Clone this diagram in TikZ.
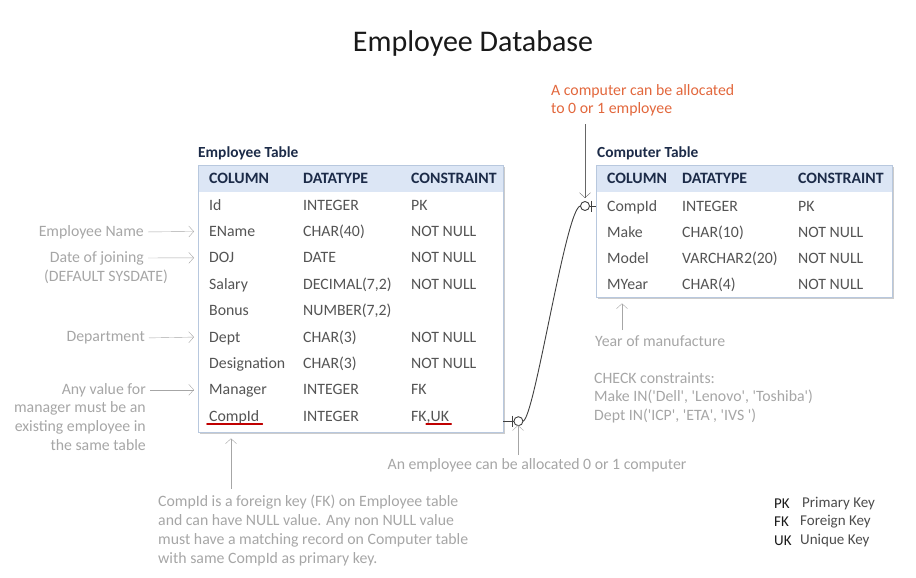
\documentclass[tikz,border=0pt]{standalone}
\usepackage{fontspec}
\setmainfont{Carlito}[Ligatures=TeXOff]
\usetikzlibrary{arrows.meta,shadows,positioning}
\definecolor{hdrblue}{HTML}{DCE6F5}
\definecolor{hdrtext}{HTML}{1C2B48}
\definecolor{celltext}{HTML}{545454}
\definecolor{notegray}{HTML}{A6A6A6}
\definecolor{noteorange}{HTML}{E2673C}
\definecolor{ulred}{HTML}{C00000}
\definecolor{tblline}{HTML}{B8C8DE}
\begin{document}
\begin{tikzpicture}[x=1pt, y=-1pt,
    tbl/.style={draw=tblline, fill=white, anchor=north west, inner sep=0pt,
                drop shadow={shadow xshift=2pt, shadow yshift=-2pt, fill=black!40}},
    hdr/.style={fill=hdrblue, anchor=north west, inner sep=0pt},
    cell/.style={anchor=west, inner sep=0pt, text=celltext,
                 font=\fontsize{15.8}{19}\selectfont, text height=11pt, text depth=1pt},
    hcell/.style={cell, text=hdrtext, font=\fontsize{15.8}{19}\selectfont\bfseries},
    tname/.style={cell, text=hdrtext, font=\fontsize{15.4}{19}\selectfont\bfseries},
    note/.style={inner sep=0pt, text=notegray, font=\fontsize{15.8}{18.8}\selectfont},
    arr/.style={draw=notegray, -{Straight Barb[length=5pt,width=11pt]}},
    rel/.style={draw=black!75, line width=0.9pt},
    ul/.style={draw=ulred, line width=1.6pt, line cap=round},
    key/.style={anchor=west, inner sep=0pt, font=\fontsize{15}{18}\selectfont}
]
\useasboundingbox (0,0) rectangle (916,578);

% Title
\node[inner sep=0pt, text=black!90, font=\fontsize{30}{34}\selectfont] (title) at (473,44) {Employee Database};

% Employee table
\node[tname] (elabel) at (198,152) {Employee Table};
\node[tbl, minimum width=305pt, minimum height=267pt] (etab) at (198,165) {};
\node[hdr, minimum width=304pt, minimum height=26pt] (ehdr) at ([xshift=.5pt,yshift=-.5pt]etab.north west) {};
\node[hcell] (eh1) at (209,178) {COLUMN};
\node[hcell] (eh2) at (303,178) {DATATYPE};
\node[hcell] (eh3) at (411,178) {CONSTRAINT};
\foreach \c/\d/\k [count=\i] in {Id/INTEGER/PK, EName/{CHAR(40)}/NOT NULL, DOJ/DATE/NOT NULL,
    Salary/{DECIMAL(7,2)}/NOT NULL, Bonus/{NUMBER(7,2)}/{}, Dept/{CHAR(3)}/NOT NULL,
    Designation/{CHAR(3)}/NOT NULL, Manager/INTEGER/FK, CompId/INTEGER/{FK,UK}} {
  \node[cell] (e\i) at (209,{205+(\i-1)*26.4}) {\c};
  \node[cell] (ed\i) at (303,{205+(\i-1)*26.4}) {\d};
  \node[cell] (ek\i) at (411,{205+(\i-1)*26.4}) {\k};
}
\draw[ul] ([xshift=-2pt,yshift=-1.5pt]e9.south west) -- ([xshift=3pt,yshift=-1.5pt]e9.south east);
\draw[ul] ([xshift=-23pt,yshift=-1.5pt]ek9.south east) -- ([xshift=2pt,yshift=-1.5pt]ek9.south east);

% Computer table
\node[tname] (clabel) at (597,152) {Computer Table};
\node[tbl, minimum width=296pt, minimum height=132pt] (ctab) at (596,165) {};
\node[hdr, minimum width=295pt, minimum height=26pt] (chdr) at ([xshift=.5pt,yshift=-.5pt]ctab.north west) {};
\node[hcell] (ch1) at (607,178) {COLUMN};
\node[hcell] (ch2) at (682,178) {DATATYPE};
\node[hcell] (ch3) at (798,178) {CONSTRAINT};
\foreach \c/\d/\k [count=\i] in {CompId/INTEGER/PK, Make/{CHAR(10)}/NOT NULL,
    Model/{VARCHAR2(20)}/NOT NULL, MYear/{CHAR(4)}/NOT NULL} {
  \node[cell] (c\i) at (607,{206+(\i-1)*26}) {\c};
  \node[cell] (cd\i) at (682,{206+(\i-1)*26}) {\d};
  \node[cell] (ck\i) at (798,{206+(\i-1)*26}) {\k};
}

% Relationship CompId -> CompId (0..1 : 0..1)
\coordinate (ej) at ([yshift=-5pt]etab.east |- e9);
\coordinate (cj) at (ctab.west |- c1);
\draw[rel] (ej) -- ++(10.5,0);
\draw[rel] ([xshift=9pt,yshift=5.5pt]ej) -- ([xshift=9pt,yshift=-5.5pt]ej);
\draw[rel] ([xshift=15pt]ej) circle[radius=4.5pt];
\draw[rel] ([xshift=19.5pt]ej) .. controls ([xshift=31pt,yshift=1pt]ej) and ([xshift=-30pt]cj) .. ([xshift=-15.5pt]cj);
\draw[rel] ([xshift=-11pt]cj) circle[radius=4.5pt];
\draw[rel] ([xshift=-6.5pt]cj) -- (cj);
\draw[rel] ([xshift=-4.5pt,yshift=5.5pt]cj) -- ([xshift=-4.5pt,yshift=-5.5pt]cj);

% Notes on the left
\node[note, anchor=east] (enote) at (144,232) {Employee Name};
\node[note, anchor=east] (dojnote) at (144,258) {Date of joining};
\node[note] (dojnote2) at (106,277) {(DEFAULT SYSDATE)};
\node[note, anchor=east] (deptnote) at (145,338) {Department};
\node[note, anchor=north east, align=right] (mgrnote) at (146,383)
  {Any value for\\manager must be an\\existing employee in\\the same table};
\draw[arr, shorten <=4pt, shorten >=4pt] (enote.east) -- (etab.west |- e2);
\draw[arr, shorten <=4pt, shorten >=4pt] (dojnote.east) -- (etab.west |- e3);
\draw[arr, shorten <=4pt, shorten >=4pt] (deptnote.east) -- (etab.west |- e6);
\draw[arr, shorten <=4pt, shorten >=4pt] (mgrnote.north east |- e8) -- (etab.west |- e8);

% Notes below
\node[note, anchor=north west, align=left] (fknote) at (158,495)
  {CompId is a foreign key (FK) on Employee table\\and can have NULL value. Any non NULL value\\must have a matching record on Computer table\\with same CompId as primary key.};
\coordinate (fkarr) at (231,489);
\draw[arr, shorten >=6pt] (fkarr) -- (fkarr |- etab.south);

\node[note] (empnote) at (537,465) {An employee can be allocated 0 or 1 computer};
\coordinate (emparr) at (518,455);
\draw[arr, shorten >=4pt] (emparr) -- (emparr |- ej);

% Notes on the right
\node[note, anchor=west] (yearnote) at (595,341) {Year of manufacture};
\coordinate (yeararr) at (622,330);
\draw[arr, shorten >=6pt] (yeararr) -- (yeararr |- ctab.south);
\node[note, anchor=north west, align=left] (chknote) at (594,372)
  {CHECK constraints:\\Make IN('Dell', 'Lenovo', 'Toshiba')\\Dept IN('ICP', 'ETA', 'IVS ')};

\node[note, text=noteorange, anchor=north west, align=left] (compnote) at (551,84)
  {A computer can be allocated\\to 0 or 1 employee};
\coordinate (comparr) at (585,124);
\draw[arr, draw=black!60, shorten >=8pt] (comparr) -- (comparr |- cj);

% Legend
\node[key, text=black!90] (pk) at (774,504) {PK};
\node[key, text=black!90] (fk) at (774,522) {FK};
\node[key, text=black!90] (uk) at (774,541) {UK};
\node[key, text=black!70] (pkt) at (802,504) {Primary Key};
\node[key, text=black!70] (fkt) at (800,522) {Foreign Key};
\node[key, text=black!70] (ukt) at (800,541) {Unique Key};
\end{tikzpicture}
\end{document}
